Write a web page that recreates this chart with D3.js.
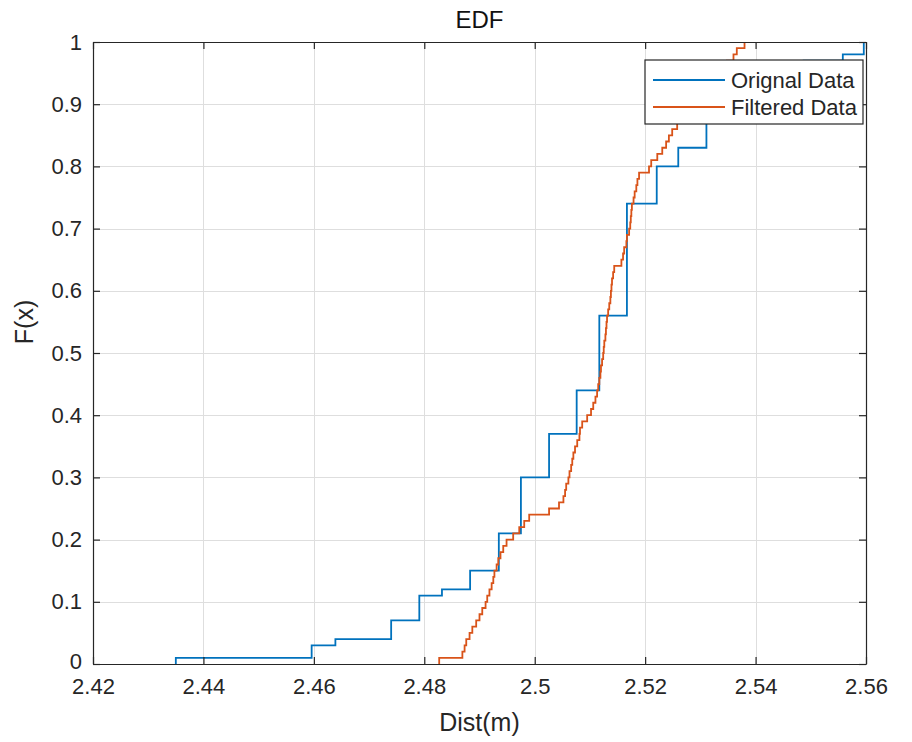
<!DOCTYPE html>
<html>
<head>
<meta charset="utf-8">
<script src="https://cdn.jsdelivr.net/npm/d3@7"></script>
<style>
  body { margin: 0; background: #fff; }
  svg { display: block; font-family: "Liberation Sans", Arial, Helvetica, sans-serif; }
</style>
</head>
<body>
<svg id="chart" width="912" height="742"></svg>
<script>
// ===============================
// Dades
// ===============================
// dades originals: valors únics ordenats i quantes vegades surten
const origValues = [2.4350, 2.4596, 2.4639, 2.4740, 2.4791, 2.4832, 2.4883, 2.4935, 2.4975, 2.5026,
                    2.5076, 2.5117, 2.5167, 2.5221, 2.5260, 2.5311, 2.5362, 2.5413, 2.5487, 2.5558, 2.5596];
const origCounts = [1, 2, 1, 3, 4, 1, 3, 6, 9, 7, 7, 12, 18, 6, 3, 6, 3, 3, 2, 1, 2];

// dades filtrades (ordenades)
const filtValues = [
  2.4827, 2.4869, 2.4873, 2.4876, 2.4882, 2.4887, 2.4894, 2.4900, 2.4905, 2.4911,
  2.4914, 2.4918, 2.4922, 2.4925, 2.4927, 2.4931, 2.4934, 2.4938, 2.4943, 2.4949,
  2.4961, 2.4972, 2.4981, 2.4990, 2.5026, 2.5044, 2.5052, 2.5055, 2.5057, 2.5061,
  2.5063, 2.5066, 2.5068, 2.5070, 2.5073, 2.5077, 2.5081, 2.5082, 2.5086, 2.5095,
  2.5102, 2.5106, 2.5110, 2.5113, 2.5115, 2.5117, 2.5119, 2.5120, 2.5122, 2.5124,
  2.5125, 2.5126, 2.5128, 2.5129, 2.5130, 2.5131, 2.5133, 2.5135, 2.5137, 2.5138,
  2.5139, 2.5140, 2.5142, 2.5144, 2.5157, 2.5160, 2.5162, 2.5166, 2.5167, 2.5171,
  2.5173, 2.5174, 2.5175, 2.5176, 2.5179, 2.5181, 2.5184, 2.5186, 2.5189, 2.5207,
  2.5211, 2.5222, 2.5231, 2.5238, 2.5243, 2.5249, 2.5258, 2.5267, 2.5276, 2.5285,
  2.5294, 2.5303, 2.5312, 2.5320, 2.5329, 2.5338, 2.5348, 2.5360, 2.5366, 2.5380
];

const xTicks = [2.42, 2.44, 2.46, 2.48, 2.50, 2.52, 2.54, 2.56];
const xTickLabels = ["2.42", "2.44", "2.46", "2.48", "2.5", "2.52", "2.54", "2.56"];
const yTicks = [0, 0.1, 0.2, 0.3, 0.4, 0.5, 0.6, 0.7, 0.8, 0.9, 1];
const yTickLabels = ["0", "0.1", "0.2", "0.3", "0.4", "0.5", "0.6", "0.7", "0.8", "0.9", "1"];

const seriesNames = ["Orignal Data", "Filtered Data"];
const seriesColors = ["#0072BD", "#D95319"];


// ===============================
// EDF (esglaons)
// ===============================
function edfPoints(values, counts) {
  const n = d3.sum(counts);
  let cum = 0;
  const pts = [{ x: values[0], y: 0 }];
  values.forEach((v, i) => {
    cum += counts[i];
    pts.push({ x: v, y: cum / n });
  });
  return pts;
}


// ===============================
// Gràfic
// ===============================
const svg = d3.select("#chart");
const margin = { left: 93, right: 46, top: 42, bottom: 78 };
const width = 912, height = 742;
const x0 = margin.left, x1 = width - margin.right;
const y0 = height - margin.bottom, y1 = margin.top;

const x = d3.scaleLinear().domain([2.42, 2.56]).range([x0, x1]);
const y = d3.scaleLinear().domain([0, 1]).range([y0, y1]);

const textColor = "#262626";

// graella
svg.append("g")
  .selectAll("line.vgrid")
  .data(xTicks)
  .enter()
  .append("line")
  .attr("x1", d => Math.round(x(d)) + 0.5)
  .attr("x2", d => Math.round(x(d)) + 0.5)
  .attr("y1", y1)
  .attr("y2", y0)
  .attr("stroke", "#dedede")
  .attr("stroke-width", 1);

svg.append("g")
  .selectAll("line.hgrid")
  .data(yTicks)
  .enter()
  .append("line")
  .attr("y1", d => Math.round(y(d)) + 0.5)
  .attr("y2", d => Math.round(y(d)) + 0.5)
  .attr("x1", x0)
  .attr("x2", x1)
  .attr("stroke", "#dedede")
  .attr("stroke-width", 1);

// corbes
const line = d3.line()
  .x(d => x(d.x))
  .y(d => y(d.y))
  .curve(d3.curveStepAfter);

const series = [
  edfPoints(origValues, origCounts),
  edfPoints(filtValues, filtValues.map(() => 1))
];

series.forEach((pts, i) => {
  svg.append("path")
    .datum(pts)
    .attr("d", line)
    .attr("fill", "none")
    .attr("stroke", seriesColors[i])
    .attr("stroke-width", 1.8);
});

// eixos (caixa + marques cap a dins)
const bottomAxis = d3.axisBottom(x).tickValues(xTicks).tickFormat((d, i) => xTickLabels[i]).tickSizeInner(-7).tickSizeOuter(0).tickPadding(14);
const topAxis = d3.axisTop(x).tickValues(xTicks).tickFormat("").tickSizeInner(-7).tickSizeOuter(0);
const leftAxis = d3.axisLeft(y).tickValues(yTicks).tickFormat((d, i) => yTickLabels[i]).tickSizeInner(-7).tickSizeOuter(0).tickPadding(11);
const rightAxis = d3.axisRight(y).tickValues(yTicks).tickFormat("").tickSizeInner(-7).tickSizeOuter(0);

function styleAxis(g) {
  g.select(".domain").attr("stroke", textColor).attr("stroke-width", 1.2);
  g.selectAll(".tick line").attr("stroke", textColor).attr("stroke-width", 1.2);
  g.selectAll(".tick text")
    .attr("fill", textColor)
    .style("font-size", "22px")
    .style("font-family", "\"Liberation Sans\", Arial, sans-serif");
}

svg.append("g").attr("transform", `translate(0,${y0})`).call(bottomAxis).call(styleAxis);
svg.append("g").attr("transform", `translate(0,${y1})`).call(topAxis).call(styleAxis);
const leftG = svg.append("g").attr("transform", `translate(${x0},0)`).call(leftAxis).call(styleAxis);
// el "0" una mica amunt perquè no toqui "2.42"
leftG.selectAll(".tick text").filter(d => d === 0).attr("dy", "0.22em");
svg.append("g").attr("transform", `translate(${x1},0)`).call(rightAxis).call(styleAxis);

// títol i etiquetes
svg.append("text")
  .attr("x", (x0 + x1) / 2)
  .attr("y", 28)
  .attr("text-anchor", "middle")
  .attr("fill", "#111")
  .style("font-size", "24px")
  .text("EDF");

svg.append("text")
  .attr("x", (x0 + x1) / 2)
  .attr("y", 731)
  .attr("text-anchor", "middle")
  .attr("fill", textColor)
  .style("font-size", "25px")
  .text("Dist(m)");

svg.append("text")
  .attr("transform", `translate(33, 322) rotate(-90)`)
  .attr("text-anchor", "middle")
  .attr("fill", textColor)
  .style("font-size", "25px")
  .text("F(x)");

// llegenda
const legend = svg.append("g").attr("transform", "translate(645, 60)");

legend.append("rect")
  .attr("width", 218)
  .attr("height", 64)
  .attr("fill", "white")
  .attr("stroke", textColor)
  .attr("stroke-width", 1.2);

seriesNames.forEach((name, i) => {
  const ly = 20 + i * 27;
  legend.append("line")
    .attr("x1", 8)
    .attr("x2", 80)
    .attr("y1", ly)
    .attr("y2", ly)
    .attr("stroke", seriesColors[i])
    .attr("stroke-width", 1.8);
  legend.append("text")
    .attr("x", 86)
    .attr("y", ly + 8)
    .attr("fill", textColor)
    .style("font-size", "22px")
    .text(name);
});
</script>
</body>
</html>
